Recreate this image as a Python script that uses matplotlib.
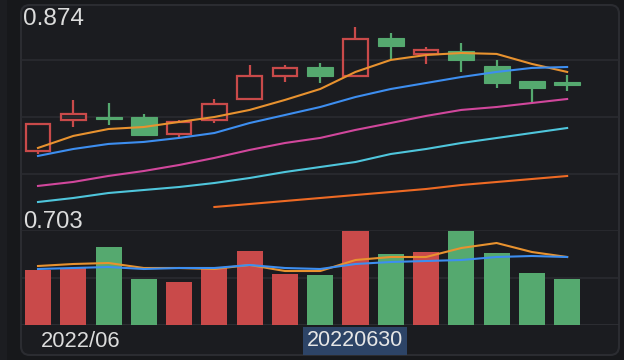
import matplotlib
matplotlib.use("Agg")
import matplotlib.pyplot as plt
from matplotlib.patches import FancyBboxPatch, Rectangle
import numpy as np

# ---------------- data ----------------
dates = ["20220615", "20220616", "20220617", "20220620", "20220621", "20220622",
         "20220623", "20220624", "20220627", "20220628", "20220629", "20220630",
         "20220701", "20220704", "20220705", "20220706"]
opens  = [0.7630, 0.7863, 0.7881, 0.7885, 0.7758, 0.7863, 0.8020, 0.8193,
          0.8260, 0.8193, 0.8478, 0.8358, 0.8380, 0.8268, 0.8155, 0.8148]
closes = [0.7833, 0.7908, 0.7874, 0.7750, 0.7848, 0.7983, 0.8193, 0.8253,
          0.8193, 0.8470, 0.8418, 0.8388, 0.8313, 0.8140, 0.8103, 0.8125]
highs  = [0.7833, 0.8013, 0.7990, 0.7908, 0.7863, 0.8020, 0.8275, 0.8275,
          0.8290, 0.8560, 0.8515, 0.8410, 0.8440, 0.8313, 0.8155, 0.8200]
lows   = [0.7608, 0.7810, 0.7825, 0.7750, 0.7735, 0.7840, 0.8020, 0.8148,
          0.8140, 0.8193, 0.8320, 0.8283, 0.8223, 0.8103, 0.7998, 0.8080]

ma5  = [0.7653, 0.7743, 0.7795, 0.7810, 0.7848, 0.7885, 0.7938, 0.8013,
        0.8095, 0.8223, 0.8313, 0.8350, 0.8365, 0.8358, 0.8283, 0.8223]
ma10 = [0.7593, 0.7645, 0.7683, 0.7698, 0.7728, 0.7765, 0.7840, 0.7900,
        0.7960, 0.8035, 0.8095, 0.8140, 0.8185, 0.8223, 0.8253, 0.8260]
ma20 = [0.7368, 0.7398, 0.7443, 0.7480, 0.7525, 0.7578, 0.7638, 0.7690,
        0.7728, 0.7788, 0.7840, 0.7893, 0.7938, 0.7960, 0.7990, 0.8020]
ma30 = [0.72475, 0.72775, 0.7315, 0.73375, 0.7360, 0.7390, 0.74275, 0.74725,
        0.7510, 0.75475, 0.76075, 0.7645, 0.7690, 0.77275, 0.7765, 0.78025]
ma60 = [None, None, None, None, None, 0.7210, 0.72325, 0.7255, 0.72775,
        0.7300, 0.73225, 0.7345, 0.7375, 0.73975, 0.7420, 0.74425]

volumes = [55, 57, 78, 46, 43, 57, 74, 51, 50, 94, 71, 73, 94, 72, 52, 46]
vol_ma5  = [59, 61, 62, 57, 57, 56, 60, 54, 54, 65, 68, 68, 77, 82, 73, 68]
vol_ma10 = [56, 57, 58, 56, 57, 57, 60, 57, 56, 61, 63, 64, 65, 68, 69, 68]

price_min, price_max = 0.703, 0.874
vol_max = 95
top_label = "0.874"
bottom_label = "0.703"
month_label = "2022/06"
cursor_label = "20220630"
cursor_index = 9

# ---------------- style ----------------
W, H = 624, 360
FIG_BG = "#17181b"
PANEL_BG = "#1b1c20"
BORDER = "#2b2c31"
GRID = "#2a2b30"
RED = "#c94a4a"
GREEN = "#55a96f"
TXT = "#dcdcdc"
C_MA5 = "#e8922f"
C_MA10 = "#3d8ef0"
C_MA20 = "#d1479c"
C_MA30 = "#4fc6dc"
C_MA60 = "#ee6a24"

plt.rcParams["font.family"] = ["Liberation Sans", "DejaVu Sans"]

fig = plt.figure(figsize=(W / 100, H / 100), dpi=100)
fig.patch.set_facecolor(FIG_BG)

def fx(px):
    return px / W

def fy(py):
    return 1 - py / H

# left strip
fig.add_artist(Rectangle((0, 0), fx(7), 1, transform=fig.transFigure,
                         facecolor="#1c1d21", edgecolor="none", zorder=-10))
# panel
panel = FancyBboxPatch((fx(21), fy(355)), fx(598), 350 / H,
                       boxstyle="round,pad=0,rounding_size=0.014",
                       transform=fig.transFigure, facecolor=PANEL_BG,
                       edgecolor=BORDER, linewidth=1.5, zorder=-10,
                       mutation_aspect=W / H)
fig.add_artist(panel)

x = np.arange(len(dates))
xlim = (-0.482, 16.47)
bw = 0.74

# ---------------- main axes ----------------
ax = fig.add_axes([fx(21), fy(231), fx(598), 228 / H])
ax.set_facecolor("none")
ax.set_xlim(*xlim)
ax.set_ylim(price_min, price_max)
for s in ax.spines.values():
    s.set_visible(False)
ax.set_xticks([])
ax.set_yticks([])
step = (price_max - price_min) / 4
for k in (1, 2, 3):
    ax.axhline(price_min + k * step, color=GRID, lw=1.2, zorder=0)

for i in x:
    o, c, h, l = opens[i], closes[i], highs[i], lows[i]
    up = c >= o
    col = RED if up else GREEN
    top, bot = max(o, c), min(o, c)
    if top - bot < 0.0012:
        mid = (top + bot) / 2
        top, bot = mid + 0.0006, mid - 0.0006
    if h > top:
        ax.vlines(i, top, h, color=col, lw=1.6, zorder=3)
    if l < bot:
        ax.vlines(i, l, bot, color=col, lw=1.6, zorder=3)
    if up:
        ax.bar(i, top - bot, bottom=bot, width=bw - 0.04, facecolor="none",
               edgecolor=col, linewidth=1.6, zorder=3)
    else:
        ax.bar(i, top - bot, bottom=bot, width=bw, facecolor=col,
               edgecolor=col, linewidth=0.8, zorder=3)

ax.plot(x, ma5, color=C_MA5, lw=1.5, zorder=4)
ax.plot(x, ma10, color=C_MA10, lw=1.5, zorder=4)
ax.plot(x, ma20, color=C_MA20, lw=1.5, zorder=4)
ax.plot(x, ma30, color=C_MA30, lw=1.5, zorder=4)
ma60_x = [i for i in x if ma60[i] is not None]
ma60_y = [ma60[i] for i in ma60_x]
ax.plot(ma60_x, ma60_y, color=C_MA60, lw=1.5, zorder=4)

# ---------------- volume axes ----------------
vax = fig.add_axes([fx(21), fy(325), fx(598), 95 / H])
vax.set_facecolor("none")
vax.set_xlim(*xlim)
vax.set_ylim(0, vol_max)
for s in vax.spines.values():
    s.set_visible(False)
vax.set_xticks([])
vax.set_yticks([])
vax.axhline(vol_max, color=GRID, lw=1.2, zorder=0)
vax.axhline(vol_max / 2, color=GRID, lw=1.2, zorder=0)
vax.axhline(0, color="#303136", lw=1.2, zorder=0)
vcols = [RED if closes[i] >= opens[i] else GREEN for i in x]
vax.bar(x, volumes, width=bw, color=vcols, zorder=2)
vax.plot(x, vol_ma5, color=C_MA5, lw=1.5, zorder=3)
vax.plot(x, vol_ma10, color=C_MA10, lw=1.5, zorder=3)

# ---------------- labels ----------------
fig.text(fx(23.5), fy(25), top_label, color=TXT, fontsize=17.6,
         ha="left", va="baseline")
fig.text(fx(23.5), fy(227.5), bottom_label, color=TXT, fontsize=17.2,
         ha="left", va="baseline")
fig.text(fx(81), fy(347.3), month_label, color=TXT, fontsize=15.8,
         ha="center", va="baseline")

vax.annotate(cursor_label, xy=(cursor_index, 0), xycoords="data",
             xytext=(0, -16), textcoords="offset pixels",
             ha="center", va="center", color="#e6e6e6", fontsize=15.5,
             bbox=dict(boxstyle="square,pad=0.18", facecolor="#2d4467",
                       edgecolor="none"), zorder=10, annotation_clip=False)

fig.savefig("out.png", dpi=100, facecolor=FIG_BG)
